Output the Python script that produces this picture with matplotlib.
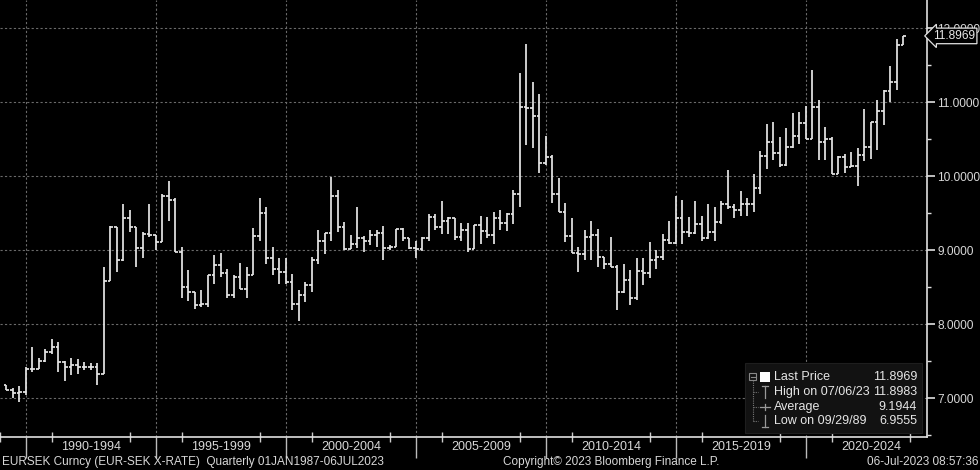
import matplotlib
matplotlib.use("Agg")
import matplotlib.pyplot as plt
from matplotlib.patches import Rectangle
from matplotlib.lines import Line2D
import matplotlib.transforms as mtransforms

plt.rcParams['font.family'] = ['Liberation Sans', 'DejaVu Sans']

# ---------------- data (quarterly OHLC, EUR/SEK, 1989Q1 .. 2023Q3) ----------------
start_year = 1989
opens = [
    7.18, 7.11, 7.07, 7.09,   7.40, 7.40, 7.51, 7.63,   7.69, 7.49, 7.42, 7.45,
    7.42, 7.42, 7.42, 7.33,   8.58, 9.31, 8.87, 9.44,   9.31, 9.03, 9.22, 9.20,
    9.11, 9.74, 9.68, 8.98,   8.50, 8.44, 8.26, 8.27,   8.66, 8.80, 8.69, 8.40,
    8.64, 8.48, 8.67, 9.19,   9.50, 8.89, 8.75, 8.71,   8.57, 8.27, 8.39, 8.53,
    8.87, 9.13, 9.23, 9.74,   9.31, 9.02, 9.08, 9.16,   9.12, 9.21, 9.23, 9.03,
    9.05, 9.29, 9.16, 9.03,   9.02, 9.17, 9.45, 9.31,   9.40, 9.44, 9.18, 9.28,
    9.02, 9.34, 9.26, 9.20,   9.44, 9.37, 9.49, 9.76,   10.93, 10.92, 10.81, 10.18,
    10.26, 9.76, 9.52, 9.19,  8.96, 8.95, 9.18, 9.20,   8.91, 8.82, 8.78, 8.44,
    8.60, 8.36, 8.72, 8.69,   8.87, 8.91, 9.14, 9.10,   9.44, 9.25, 9.23, 9.35,
    9.17, 9.25, 9.38, 9.62,   9.58, 9.55, 9.63, 9.62,   9.84, 10.27, 10.46, 10.31,
    10.15, 10.40, 10.55, 10.72, 10.51, 10.93, 10.46, 10.51, 10.03, 10.26, 10.13, 10.14,
    10.29, 10.39, 10.73, 10.88, 11.15, 11.28, 11.77,
]
highs = [
    7.18, 7.14, 7.16, 7.42,   7.69, 7.54, 7.67, 7.80,   7.76, 7.51, 7.54, 7.53,
    7.49, 7.48, 7.48, 8.78,   9.33, 9.32, 9.63, 9.54,   9.31, 9.25, 9.63, 9.21,
    9.76, 9.93, 9.70, 9.05,   8.74, 8.44, 8.46, 8.67,   8.94, 8.96, 8.75, 8.66,
    8.83, 8.77, 9.30, 9.71,   9.58, 9.05, 8.89, 8.89,   8.68, 8.46, 8.57, 8.91,
    9.28, 9.23, 9.99, 9.81,   9.38, 9.20, 9.59, 9.19,   9.28, 9.27, 9.33, 9.07,
    9.29, 9.30, 9.16, 9.13,   9.18, 9.49, 9.49, 9.67,   9.45, 9.44, 9.37, 9.37,
    9.34, 9.46, 9.45, 9.52,   9.54, 9.50, 9.81, 11.40,  11.79, 11.28, 11.11, 10.54,
    10.29, 9.98, 9.64, 9.43,  9.04, 9.27, 9.40, 9.29,   8.91, 9.18, 8.80, 8.81,
    8.73, 8.90, 8.90, 9.11,   9.01, 9.22, 9.39, 9.73,   9.68, 9.45, 9.67, 9.46,
    9.62, 9.58, 9.67, 10.09,  9.63, 9.80, 9.70, 10.03,  10.34, 10.70, 10.73, 10.53,
    10.65, 10.86, 10.87, 10.95, 11.43, 11.03, 10.66, 10.53, 10.28, 10.30, 10.33, 10.38,
    10.91, 10.73, 11.03, 11.17, 11.49, 11.86, 11.8983,
]
lows = [
    7.11, 7.00, 6.9555, 7.04, 7.36, 7.40, 7.49, 7.60,   7.36, 7.24, 7.31, 7.33,
    7.38, 7.38, 7.18, 7.33,   8.58, 8.71, 8.86, 9.25,   8.77, 8.90, 9.18, 9.00,
    9.11, 9.40, 8.98, 8.36,   8.32, 8.20, 8.23, 8.23,   8.55, 8.64, 8.35, 8.35,
    8.48, 8.36, 8.67, 9.13,   8.82, 8.66, 8.55, 8.55,   8.19, 8.05, 8.30, 8.44,
    8.82, 8.95, 9.13, 9.25,   9.00, 9.02, 9.03, 8.98,   9.07, 9.04, 8.87, 9.00,
    9.04, 9.12, 9.02, 8.89,   8.99, 9.13, 9.28, 9.22,   9.22, 9.14, 9.13, 8.98,
    9.02, 9.09, 9.16, 9.09,   9.27, 9.26, 9.36, 9.58,   10.42, 10.38, 10.04, 10.15,
    9.64, 9.52, 9.11, 8.96,   8.71, 8.87, 8.87, 8.78,   8.75, 8.78, 8.19, 8.42,
    8.26, 8.33, 8.53, 8.62,   8.75, 8.87, 9.09, 9.08,   9.08, 9.18, 9.22, 9.13,
    9.15, 9.13, 9.36, 9.56,   9.43, 9.46, 9.47, 9.52,   9.76, 10.10, 10.22, 10.13,
    10.14, 10.38, 10.44, 10.51, 10.51, 10.22, 10.22, 10.03, 10.03, 10.04, 10.12, 9.87,
    10.21, 10.24, 10.35, 10.69, 11.00, 11.16, 11.77,
]
closes = [
    7.11, 7.07, 7.09, 7.40,   7.40, 7.51, 7.63, 7.69,   7.49, 7.42, 7.45, 7.42,
    7.42, 7.42, 7.33, 8.58,   9.31, 8.87, 9.44, 9.31,   9.03, 9.22, 9.20, 9.11,
    9.74, 9.68, 8.98, 8.50,   8.44, 8.26, 8.27, 8.66,   8.80, 8.69, 8.40, 8.64,
    8.48, 8.67, 9.19, 9.50,   8.89, 8.75, 8.71, 8.57,   8.27, 8.39, 8.53, 8.87,
    9.13, 9.23, 9.74, 9.31,   9.02, 9.08, 9.16, 9.12,   9.21, 9.23, 9.03, 9.05,
    9.29, 9.16, 9.03, 9.02,   9.17, 9.45, 9.31, 9.40,   9.44, 9.18, 9.28, 9.02,
    9.34, 9.26, 9.20, 9.44,   9.37, 9.49, 9.76, 10.93,  10.92, 10.81, 10.18, 10.26,
    9.76, 9.52, 9.19, 8.96,   8.95, 9.18, 9.20, 8.91,   8.82, 8.78, 8.44, 8.60,
    8.36, 8.72, 8.69, 8.87,   8.91, 9.14, 9.10, 9.44,   9.25, 9.23, 9.35, 9.17,
    9.25, 9.38, 9.62, 9.58,   9.55, 9.63, 9.62, 9.84,   10.27, 10.46, 10.31, 10.15,
    10.40, 10.55, 10.72, 10.51, 10.93, 10.46, 10.51, 10.03, 10.26, 10.13, 10.14, 10.29,
    10.39, 10.73, 10.88, 11.15, 11.28, 11.77, 11.8969,
]
period_labels = ["1990-1994", "1995-1999", "2000-2004", "2005-2009",
                 "2010-2014", "2015-2019", "2020-2024"]
period_starts = [1990, 1995, 2000, 2005, 2010, 2015, 2020]
y_ticks = [7, 8, 9, 10, 11, 12]
legend_labels = ["Last Price", "High on 07/06/23", "Average", "Low on 09/29/89"]
legend_values = ["11.8969", "11.8983", "9.1944", "6.9555"]
last_price = 11.8969

# quarter-end dates in decimal years
t = [start_year + (i + 1) * 0.25 for i in range(len(closes))]

# ---------------- figure ----------------
W, H = 980, 470
fig = plt.figure(figsize=(W / 100, H / 100), dpi=100, facecolor='black')
ax = fig.add_axes([0, 33 / H, 927 / W, 1 - 33 / H], facecolor='black')

def fx(x):
    return x / W

def fy(y):
    return 1 - y / H

bar_col = '#e6e6e6'
tick_w = 0.11
ax.vlines(t, lows, highs, color=bar_col, lw=1.25, zorder=3)
ax.hlines(opens, [x - tick_w for x in t], t, color=bar_col, lw=1.25, zorder=3)
ax.hlines(closes, t, [x + tick_w for x in t], color=bar_col, lw=1.25, zorder=3)

# grid
for yv in y_ticks:
    ax.axhline(yv, color='#6a6a6a', lw=0.8, ls=(0, (2, 2)), zorder=1)
for xv in period_starts:
    ax.axvline(xv, color='#6a6a6a', lw=0.8, ls=(0, (2, 2)), zorder=1)

# spines
for s in ['top', 'left']:
    ax.spines[s].set_visible(False)
for s in ['right', 'bottom']:
    ax.spines[s].set_color('#e0e0e0')
    ax.spines[s].set_linewidth(1.2)

# y axis on right
ax.yaxis.tick_right()
ax.set_yticks(y_ticks)
ax.set_yticklabels([f"{v:.4f}" for v in y_ticks])
ax.set_yticks([v + 0.5 for v in [6] + y_ticks[:-1]], minor=True)
ax.tick_params(axis='y', which='major', direction='out', length=6, width=1.2,
               colors='#e0e0e0', labelcolor='#d8d8d8', labelsize=8.6, pad=1.5)
ax.tick_params(axis='y', which='minor', direction='out', length=3, width=1.0,
               colors='#e0e0e0')

# x axis ticks
ax.set_xticks(period_starts)
ax.set_xticklabels([])
minor_x = [y for s in range(1985, 2030, 5) for y in (s + 1, s + 4)]
ax.set_xticks(minor_x, minor=True)
ax.tick_params(axis='x', which='major', direction='out', length=15, width=1.0,
               colors='#bbbbbb')
ax.tick_params(axis='x', which='minor', direction='inout', length=7, width=1.0,
               colors='#cccccc')

# limits (after ticks so they are not expanded)
ax.set_xlim(1989.0, 2024.654)
ax.set_ylim(6.477, 12.382)

trans_x = mtransforms.blended_transform_factory(ax.transData, fig.transFigure)
for s, lab in zip(period_starts, period_labels):
    ax.text(s + 2.5, fy(447), lab, transform=trans_x, ha='center', va='center',
            color='#d8d8d8', fontsize=9)

# last price box
trans_y = mtransforms.blended_transform_factory(ax.transAxes, ax.transData)
ax.text(1 + 6 / 927, last_price, f"{last_price:.4f}", transform=trans_y,
        ha='left', va='center', color='#e8e8e8', fontsize=8.6, zorder=10,
        bbox=dict(boxstyle='larrow,pad=0.15', fc='black', ec='#e0e0e0', lw=0.9),
        clip_on=False)

# footer texts
fig.text(fx(2), fy(462), "EURSEK Curncy (EUR-SEK X-RATE)  Quarterly 01JAN1987-06JUL2023",
         color='#d8d8d8', fontsize=8.5, ha='left', va='center')
fig.text(fx(503), fy(462), "Copyright\u00a9 2023 Bloomberg Finance L.P.",
         color='#d8d8d8', fontsize=8.5, ha='left', va='center')
fig.text(fx(978), fy(462), "06-Jul-2023 08:57:36",
         color='#d8d8d8', fontsize=8.5, ha='right', va='center')

# legend box
fig.patches.append(Rectangle((fx(745), fy(433)), (922 - 745) / W, (433 - 363) / H,
                             transform=fig.transFigure, fc='#121212', ec='#1e1e1e',
                             lw=0.8, zorder=5))
rows_y = [377, 392, 407, 421]
fig.lines.append(Line2D([fx(753), fx(753)], [fy(380), fy(421)], transform=fig.transFigure,
                        color='#777777', lw=0.8, ls=(0, (1, 1)), zorder=6))
for ry in rows_y[1:]:
    fig.lines.append(Line2D([fx(753), fx(758)], [fy(ry), fy(ry)], transform=fig.transFigure,
                            color='#777777', lw=0.8, ls=(0, (1, 1)), zorder=6))
fig.patches.append(Rectangle((fx(749), fy(380)), 7 / W, 7 / H, transform=fig.transFigure,
                             fc='none', ec='#888888', lw=0.8, zorder=6))
fig.lines.append(Line2D([fx(750.5), fx(754.5)], [fy(376.5), fy(376.5)],
                        transform=fig.transFigure, color='#888888', lw=0.8, zorder=6))
fig.patches.append(Rectangle((fx(760), fy(382)), 10 / W, 10 / H, transform=fig.transFigure,
                             fc='white', ec='white', lw=0, zorder=6))
ic = '#999999'
fig.lines.append(Line2D([fx(762), fx(768)], [fy(386), fy(386)], transform=fig.transFigure, color=ic, lw=0.9, zorder=6))
fig.lines.append(Line2D([fx(765), fx(765)], [fy(386), fy(398)], transform=fig.transFigure, color=ic, lw=0.9, zorder=6))
fig.lines.append(Line2D([fx(760), fx(770)], [fy(407), fy(407)], transform=fig.transFigure, color=ic, lw=0.9, zorder=6))
fig.lines.append(Line2D([fx(765), fx(765)], [fy(404), fy(410)], transform=fig.transFigure, color=ic, lw=0.9, zorder=6))
fig.lines.append(Line2D([fx(765), fx(765)], [fy(415), fy(427)], transform=fig.transFigure, color=ic, lw=0.9, zorder=6))
fig.lines.append(Line2D([fx(762), fx(768)], [fy(427), fy(427)], transform=fig.transFigure, color=ic, lw=0.9, zorder=6))

for ry, lab, val in zip(rows_y, legend_labels, legend_values):
    fig.text(fx(774), fy(ry), lab, color='#e6e6e6', fontsize=9, ha='left', va='center', zorder=7)
    fig.text(fx(917), fy(ry), val, color='#e6e6e6', fontsize=9, ha='right', va='center', zorder=7)

fig.savefig("out.png", dpi=100, facecolor='black')
